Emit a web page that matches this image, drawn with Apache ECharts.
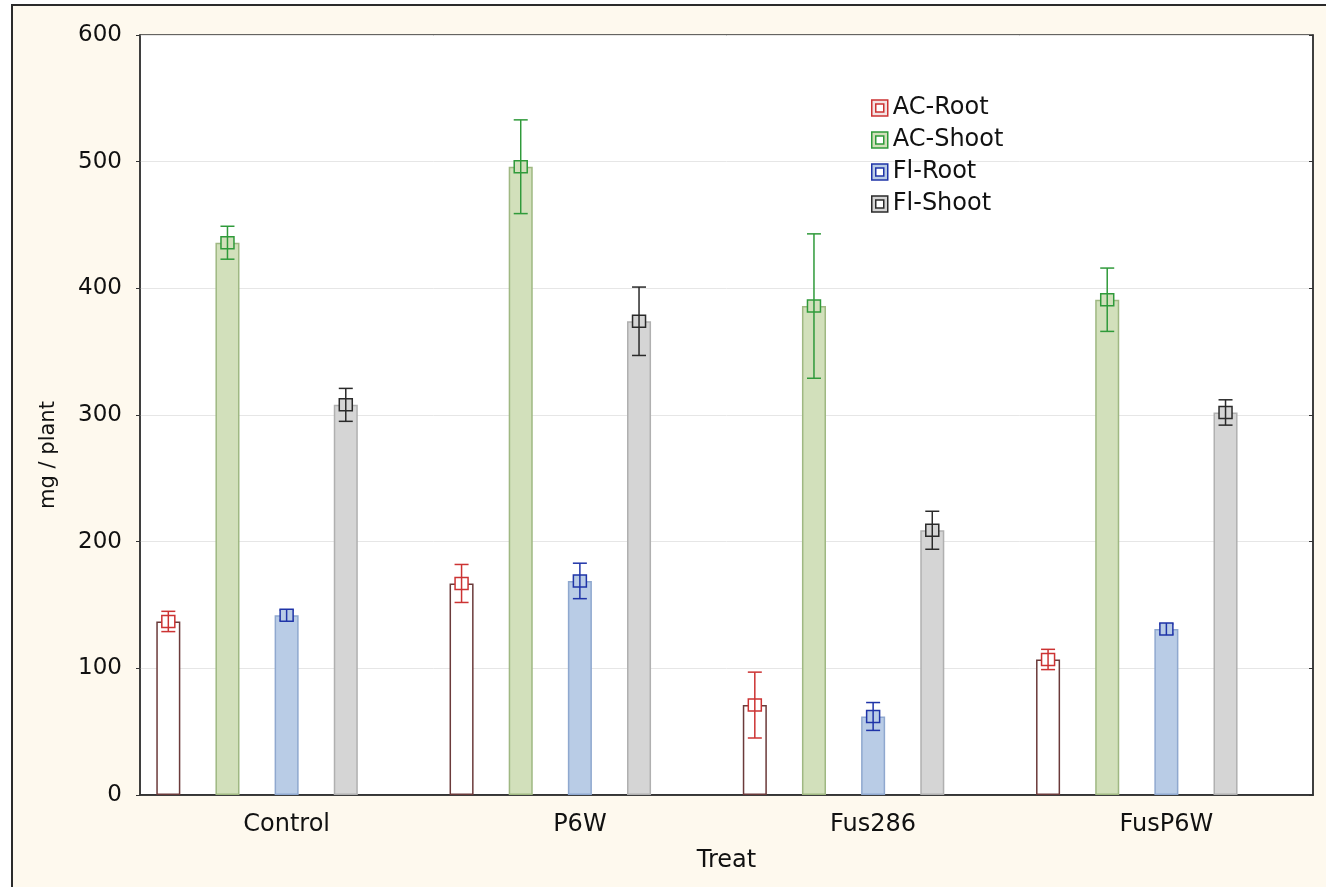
<!DOCTYPE html>
<html>
<head>
<meta charset="utf-8">
<script src="https://cdn.jsdelivr.net/npm/echarts@6/dist/echarts.min.js"></script>
<style>
html,body{margin:0;padding:0;background:#ffffff;}
#chart{width:1326px;height:887px;}
</style>
</head>
<body>
<div id="chart"></div>
<script>
// ---- data ----
var categories = ['Control', 'P6W', 'Fus286', 'FusP6W'];
var seriesNames = ['AC-Root', 'AC-Shoot', 'Fl-Root', 'Fl-Shoot'];
var acRootMean  = [137, 167, 71, 107];
var acRootErr   = [8, 15, 26, 8];
var acShootMean = [436, 496, 386, 391];
var acShootErr  = [13, 37, 57, 25];
var flRootMean  = [142, 169, 62, 131];
var flRootErr   = [4, 14, 11, 4];
var flShootMean = [308, 374, 209, 302];
var flShootErr  = [13, 27, 15, 10];
var yTicks = [0, 100, 200, 300, 400, 500, 600];
var yTitle = 'mg / plant';
var xTitle = 'Treat';

// ---- styling ----
var FONT = 'DejaVu Sans';
var TXT = '#111111';
var BAR_W = 0.082;      // bar width as a fraction of the category band
var BAR_GAP = 1.46;     // gap between bars as a fraction of bar width
var barFill   = ['#ffffff', '#d2e0bb', '#b9cce6', '#d5d5d5'];
var barBorder = ['#6b3a3a', '#9fb882', '#8fa8cf', '#b0b0b0'];
var errColor  = ['#cc3333', '#2f9a3a', '#1f34a8', '#2a2a2a'];
var means = [acRootMean, acShootMean, flRootMean, flShootMean];
var errs  = [acRootErr, acShootErr, flRootErr, flShootErr];

function errRender(k) {
  return function (params, api) {
    var xi = api.value(0), m = api.value(1), e = api.value(2);
    var band = api.size([1, 0])[0];
    var step = band * BAR_W * (1 + BAR_GAP);
    var off = (k - 2) * step;
    var pM = api.coord([xi, m]);
    var pT = api.coord([xi, m + e]);
    var pB = api.coord([xi, m - e]);
    var x = pM[0] + off;
    var cap = 7;
    var st = { stroke: errColor[k], lineWidth: 1.5, fill: null };
    return {
      type: 'group',
      children: [
        { type: 'line', shape: { x1: x, y1: pT[1], x2: x, y2: pB[1] }, style: st },
        { type: 'line', shape: { x1: x - cap, y1: pT[1], x2: x + cap, y2: pT[1] }, style: st },
        { type: 'line', shape: { x1: x - cap, y1: pB[1], x2: x + cap, y2: pB[1] }, style: st },
        { type: 'rect', shape: { x: x - 6.5, y: pM[1] - 6, width: 13, height: 12 },
          style: { stroke: errColor[k], lineWidth: 1.5, fill: barFill[k] } },
        { type: 'line', shape: { x1: x, y1: pM[1] - 6, x2: x, y2: pM[1] + 6 }, style: st }
      ]
    };
  };
}

var series = [];
for (var k = 0; k < 4; k++) {
  series.push({
    name: seriesNames[k],
    type: 'bar',
    data: means[k],
    barWidth: (BAR_W * 100) + '%',
    barGap: (BAR_GAP * 100) + '%',
    itemStyle: { color: barFill[k], borderColor: barBorder[k], borderWidth: 1.5 },
    emphasis: { disabled: true },
    z: 2
  });
}
// empty spacer slot so the bar group layout matches (third bar on category centre)
series.push({
  name: 'spacer', type: 'bar', data: [], barWidth: (BAR_W * 100) + '%', barGap: (BAR_GAP * 100) + '%', silent: true
});
for (var k2 = 0; k2 < 4; k2++) {
  var d = [];
  for (var i = 0; i < categories.length; i++) d.push([i, means[k2][i], errs[k2][i]]);
  series.push({
    name: seriesNames[k2],
    type: 'custom',
    renderItem: errRender(k2),
    data: d,
    encode: { x: 0, y: 1 },
    z: 5,
    silent: true
  });
}

var legendIcon = 'path://M0,0H16V16H0ZM4,4V12H12V4Z';
var legendData = seriesNames.map(function (n, k) {
  return { name: n, icon: legendIcon, itemStyle: { color: barFill[k] === '#ffffff' ? '#f3e3e3' : barFill[k], borderColor: errColor[k], borderWidth: 1.5 } };
});

var option = {
  backgroundColor: '#ffffff',
  animation: false,
  graphic: [{
    type: 'rect', z: -100, silent: true,
    shape: { x: 12, y: 5, width: 1330, height: 900 },
    style: { fill: '#fef9ee', stroke: '#2b2b2b', lineWidth: 2 }
  }, {
    type: 'text', x: 49, y: 455, rotation: Math.PI / 2, silent: true,
    style: { text: yTitle, fontFamily: FONT, fontSize: 21, fill: TXT, align: 'center', verticalAlign: 'middle' }
  }],
  grid: { left: 140, top: 35, right: 13, bottom: 92, show: true, backgroundColor: '#ffffff', borderColor: '#333333', borderWidth: 1.5 },
  legend: {
    orient: 'vertical', left: 866, top: 91,
    itemWidth: 16, itemHeight: 16, itemGap: 8,
    data: legendData,
    textStyle: { fontFamily: FONT, fontSize: 24, color: TXT, lineHeight: 24 }
  },
  xAxis: [{
    type: 'category', data: categories, position: 'bottom',
    name: xTitle, nameLocation: 'middle', nameGap: 54,
    nameTextStyle: { fontFamily: FONT, fontSize: 24, color: TXT },
    axisLine: { lineStyle: { color: '#333333', width: 1.5 } },
    axisTick: { alignWithLabel: true, inside: true, length: 4, lineStyle: { color: '#333' } },
    axisLabel: { fontFamily: FONT, fontSize: 24, color: TXT, margin: 18 },
    splitLine: { show: false }
  }, {
    type: 'category', data: categories, position: 'top',
    axisLine: { show: true, lineStyle: { color: '#333333', width: 1.5 } },
    axisTick: { alignWithLabel: true, inside: true, length: 4, lineStyle: { color: '#333' } },
    axisLabel: { show: false }
  }],
  yAxis: [{
    type: 'value', min: 0, max: 600, interval: 100, position: 'left',
    axisLine: { show: true, lineStyle: { color: '#333333', width: 1.5 } },
    axisTick: { show: true, length: 4, lineStyle: { color: '#333' } },
    axisLabel: { fontFamily: FONT, fontSize: 23, color: TXT, margin: 18,
      formatter: function (v) { return yTicks.indexOf(v) >= 0 ? String(v) : ''; } },
    splitLine: { show: true, lineStyle: { color: '#e6e6e6', width: 1 } }
  }, {
    type: 'value', min: 0, max: 600, interval: 100, position: 'right',
    axisLine: { show: true, lineStyle: { color: '#333333', width: 1.5 } },
    axisTick: { show: true, inside: true, length: 4, lineStyle: { color: '#333' } },
    axisLabel: { show: false },
    splitLine: { show: false }
  }],
  series: series
};

var chart = echarts.init(document.getElementById('chart'), null, { renderer: 'canvas' });
chart.setOption(option);
</script>
</body>
</html>
